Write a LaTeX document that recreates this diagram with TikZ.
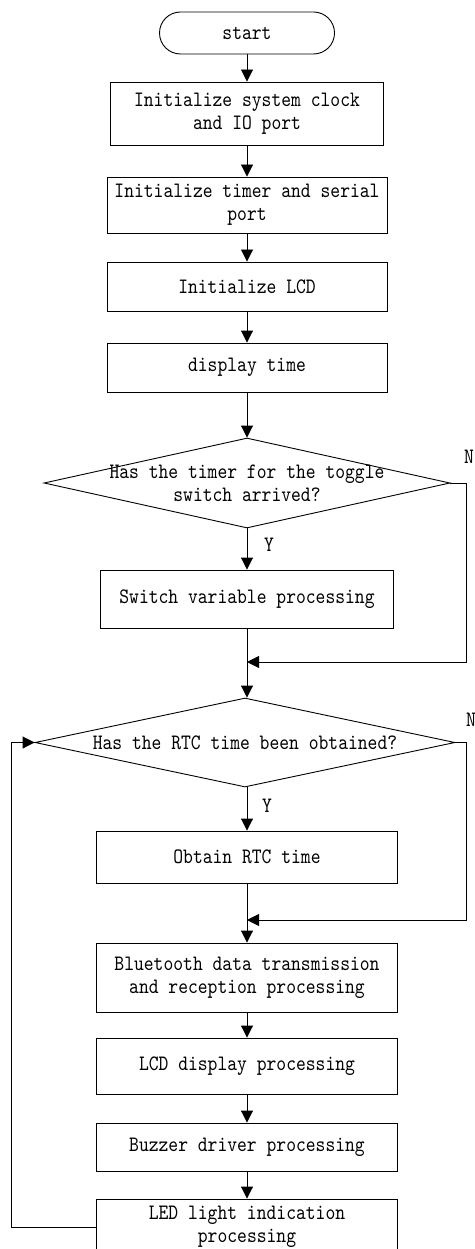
\documentclass[tikz,border=0pt]{standalone}
\usepackage{fontspec}
\setmonofont[Extension=.otf,FakeStretch=0.85]{lmmono10-regular}
\usetikzlibrary{shapes.geometric,arrows.meta}
\tikzset{
  term/.style={draw,rounded corners=21pt,minimum width=175pt,minimum height=42pt,inner sep=0pt},
  box/.style={draw,minimum width=#1,align=center,inner sep=0pt},
  box/.default=280pt,
  decision/.style={draw,diamond,inner sep=0pt}
}
\begin{document}
\begin{tikzpicture}[x=1pt,y=-1pt,line width=0.9pt,>={Triangle[length=12pt,width=12pt]},
  font=\ttfamily\fontsize{22}{23}\selectfont]
\useasboundingbox (0,0) rectangle (474,1249);
\node[term] (start) at (247,33) {start};
\node[box=273pt,minimum height=63pt] (b1) at (247,113.5) {Initialize system clock\\and IO port};
\node[box,minimum height=56pt] (b2) at (247,205) {Initialize timer and serial\\port};
\node[box,minimum height=49pt] (b3) at (247,286.5) {Initialize LCD};
\node[box,minimum height=49pt] (b4) at (247,367.5) {display time};
\node[decision,minimum width=406pt,minimum height=90pt,
  label={[align=center]center:Has the timer for the toggle\\switch arrived?}] (d1) at (247,483) {};
\node[box=293pt,minimum height=58pt] (b5) at (247,599) {Switch variable processing};
\coordinate (j1) at (247,662);
\coordinate (r1) at (466,662);
\node[decision,minimum width=420pt,minimum height=89pt,
  label={center:Has the RTC time been obtained?}] (d2) at (245,742.5) {};
\node[box=301pt,minimum height=52pt] (b6) at (247,857) {Obtain RTC time};
\coordinate (j2) at (247,920);
\coordinate (r2) at (466,920);
\node[box=301pt,minimum height=69pt] (b7) at (247,977.5) {Bluetooth data transmission\\and reception processing};
\node[box=301pt,minimum height=56pt] (b8) at (247,1066) {LCD display processing};
\node[box=301pt,minimum height=48pt] (b9) at (247,1147) {Buzzer driver processing};
\node[box=301pt,minimum height=56pt] (b10) at (247,1227) {LED light indication\\processing};
\coordinate (l1) at (11,742.5);
\node (n1) at (469,457) {N};
\node (y1) at (269,545) {Y};
\node (n2) at (471,720) {N};
\node (y2) at (267,806) {Y};
\draw[->] (start) -- (b1);
\draw[->] (b1) -- (b2);
\draw[->] (b2) -- (b3);
\draw[->] (b3) -- (b4);
\draw[->] (b4) -- (d1);
\draw[->] (d1) -- (b5);
\draw (b5) -- (j1);
\draw[->] (d1.east) -| (r1) -- (j1);
\draw[->] (j1) -- (d2.north -| j1);
\draw[->] (d2.south -| b6) -- (b6);
\draw (b6) -- (j2);
\draw[->] (d2.east) -| (r2) -- (j2);
\draw[->] (j2) -- (b7);
\draw[->] (b7) -- (b8);
\draw[->] (b8) -- (b9);
\draw[->] (b9) -- (b10);
\draw[->] (b10.west) -| (l1) -- (d2.west);
\end{tikzpicture}
\end{document}
